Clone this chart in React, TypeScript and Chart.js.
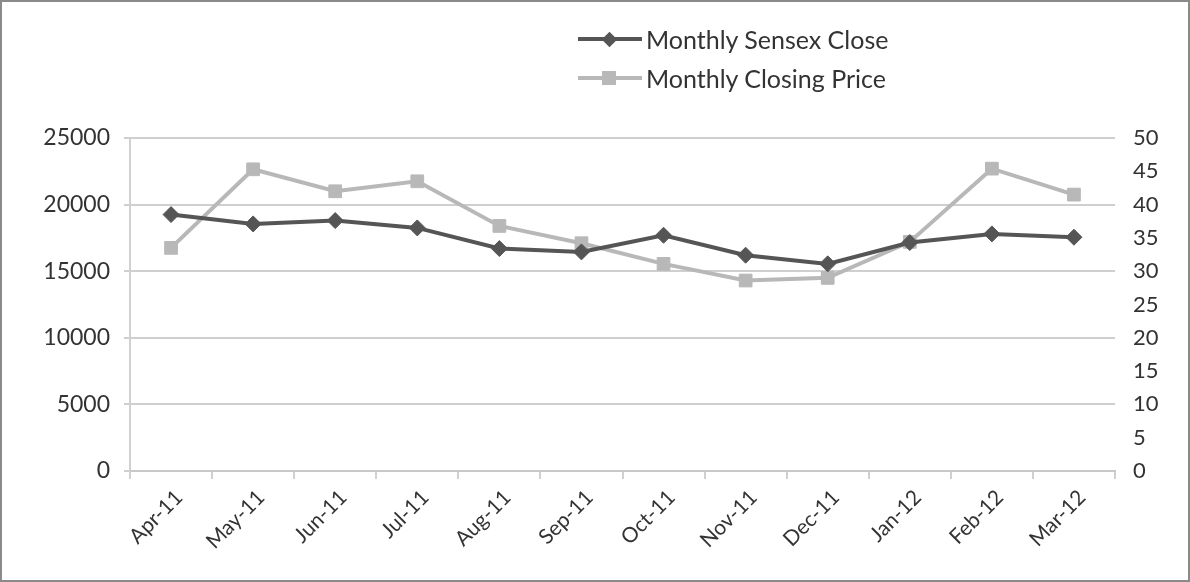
import React, { useEffect, useRef } from "react";
import { Chart, registerables } from "chart.js";

Chart.register(...registerables);

const categories = ["Apr-11", "May-11", "Jun-11", "Jul-11", "Aug-11", "Sep-11", "Oct-11", "Nov-11", "Dec-11", "Jan-12", "Feb-12", "Mar-12"];
const sensexClose = [19250, 18550, 18800, 18250, 16700, 16450, 17700, 16200, 15550, 17150, 17800, 17550];
const closingPrice = [33.5, 45.3, 42.0, 43.5, 36.8, 34.2, 31.1, 28.6, 29.0, 34.4, 45.4, 41.5];
const leftTicks = [0, 5000, 10000, 15000, 20000, 25000];
const rightMax = 50;

const FONT = "Lato, 'Open Sans', sans-serif";

export default function App() {
  const ref = useRef<HTMLCanvasElement>(null);
  useEffect(() => {
    document.body.style.margin = "0";
    const ctx = ref.current!;
    const chart = new Chart(ctx, {
      type: "line",
      data: {
        labels: categories,
        datasets: [
          {
            label: "Monthly Sensex Close",
            data: sensexClose,
            yAxisID: "y",
            borderColor: "#555555",
            backgroundColor: "#555555",
            borderWidth: 4,
            pointStyle: "rectRot",
            pointRadius: 8,
            pointBorderWidth: 1,
            tension: 0,
            order: 1,
          },
          {
            label: "Monthly Closing Price",
            data: closingPrice,
            yAxisID: "y1",
            borderColor: "#b8b8b8",
            backgroundColor: "#b8b8b8",
            borderWidth: 4,
            pointStyle: "rect",
            pointRadius: 9,
            pointBorderWidth: 1,
            tension: 0,
            order: 2,
          },
        ],
      },
      options: {
        animation: false,
        responsive: false,
        maintainAspectRatio: false,
        layout: { padding: { top: 136, left: 0, right: 0, bottom: 0 } },
        plugins: { legend: { display: false }, tooltip: { enabled: false } },
        scales: {
          x: {
            offset: true,
            grid: {
              display: true,
              offset: true,
              drawOnChartArea: false,
              tickLength: 8,
              color: "#d0d0d0",
              lineWidth: 2,
            },
            border: { display: true, color: "#c8c8c8", width: 2 },
            ticks: {
              minRotation: 45,
              maxRotation: 45,
              color: "#333",
              font: { family: FONT, size: 21 },
              padding: 6,
              labelOffset: 8,
            },
            afterFit: (s: any) => {
              s.height = 109;
            },
          },
          y: {
            position: "left",
            min: 0,
            max: 25000,
            afterBuildTicks: (s: any) => {
              s.ticks = leftTicks.map((v) => ({ value: v }));
            },
            grid: { color: "#cfcfcf", lineWidth: 2, tickLength: 6 },
            border: { display: true, color: "#d0d0d0", width: 2 },
            ticks: {
              color: "#333",
              font: { family: FONT, size: 23 },
              padding: 14,
              callback: (v: any) => String(v),
            },
            afterFit: (s: any) => {
              s.width = 128;
            },
          },
          y1: {
            position: "right",
            min: 0,
            max: rightMax,
            grid: { display: false, drawOnChartArea: false },
            border: { display: false },
            ticks: {
              stepSize: 5,
              color: "#333",
              font: { family: FONT, size: 22 },
              padding: 10,
            },
            afterFit: (s: any) => {
              s.width = 73;
            },
          },
        },
      },
    });
    return () => chart.destroy();
  }, []);

  const legendItem = (label: string, color: string, square: boolean) => (
    <div style={{ display: "flex", alignItems: "center", height: 39 }}>
      <div style={{ position: "relative", width: 64, height: 20, marginRight: 4 }}>
        <div style={{ position: "absolute", left: 0, right: 0, top: 8, height: 4, background: color }} />
        <div
          style={{
            position: "absolute",
            left: 24,
            top: 3,
            width: square ? 14 : 11,
            height: square ? 14 : 11,
            background: color,
            transform: square ? "none" : "rotate(45deg)",
            marginLeft: square ? 0 : 2,
            marginTop: square ? 0 : 2,
          }}
        />
      </div>
      <span style={{ fontFamily: FONT, fontSize: 25, color: "#333", whiteSpace: "nowrap" }}>{label}</span>
    </div>
  );

  return (
    <div
      style={{
        position: "relative",
        width: 1190,
        height: 582,
        border: "2px solid #8a8a8a",
        boxSizing: "border-box",
        background: "#fff",
        overflow: "hidden",
      }}
    >
      <canvas ref={ref} width={1186} height={578} style={{ display: "block" }} />
      <div style={{ position: "absolute", left: 576, top: 17 }}>
        {legendItem("Monthly Sensex Close", "#555555", false)}
        {legendItem("Monthly Closing Price", "#b8b8b8", true)}
      </div>
    </div>
  );
}
